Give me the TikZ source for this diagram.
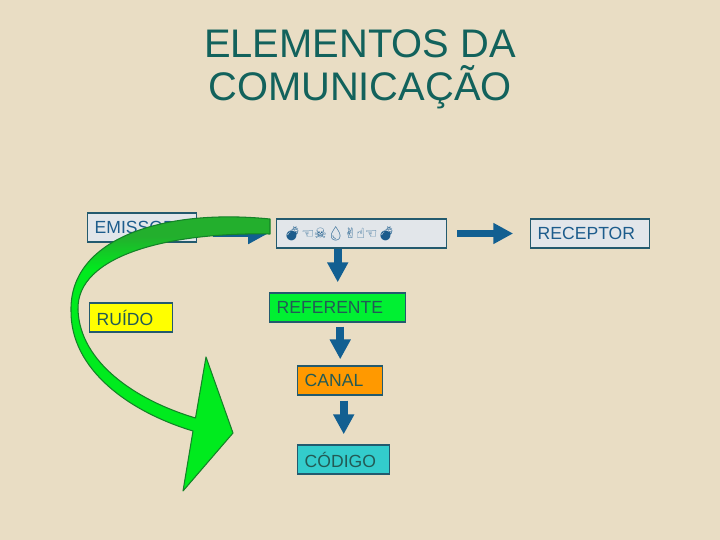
\documentclass[tikz,border=0pt]{standalone}
\usepackage{fontspec}
\setmainfont{Liberation Sans}
\newfontfamily\simbolos{DejaVu Sans}
\newfontfamily\emoji{Noto Emoji}
\usetikzlibrary{arrows.meta}

\definecolor{fundo}{RGB}{233,221,196}
\definecolor{tituloverde}{RGB}{18,98,92}
\definecolor{bordacaixa}{RGB}{35,90,110}
\definecolor{cinzacaixa}{RGB}{226,230,234}
\definecolor{textoazul}{RGB}{28,92,140}
\definecolor{textoverde}{RGB}{35,90,85}
\definecolor{azulseta}{RGB}{18,95,145}
\definecolor{amarelo}{RGB}{255,255,0}
\definecolor{verderef}{RGB}{0,240,50}
\definecolor{laranja}{RGB}{255,153,0}
\definecolor{turquesa}{RGB}{51,204,204}
\definecolor{verdeA}{RGB}{35,175,45}
\definecolor{verdeB}{RGB}{0,235,30}
\definecolor{verdebordo}{RGB}{20,130,40}

\pgfdeclareverticalshading{verdeseta}{100bp}{color(0bp)=(verdeB); color(64bp)=(verdeB); color(70bp)=(verdeA); color(100bp)=(verdeA)}

\begin{document}
\begin{tikzpicture}[
        x=0.02cm, y=-0.02cm,
        caixa/.style={
            rectangle,
            draw=bordacaixa,
            line width=0.8pt,
            anchor=west,
            minimum height=0.58cm,
            inner xsep=4pt,
            align=left,
            font=\fontsize{10}{12}\selectfont
        },
        cinza/.style={caixa, fill=cinzacaixa, text=textoazul},
        cor/.style={caixa, text=textoverde},
        titulo/.style={
            anchor=base,
            text=tituloverde,
            font=\fontsize{22.7}{24.4}\selectfont
        },
        seta/.style={
            draw=azulseta,
            line width=4.5pt,
            -{Triangle[length=11.3pt,width=11.3pt]}
        }
    ]
    % fundo e limites
    \fill[fundo] (0,0) rectangle (720,540);
    \useasboundingbox (0,0) rectangle (720,540);

    % titulo
    \node[titulo] (titulo1) at (360,58) {ELEMENTOS DA};
    \node[titulo] (titulo2) at (360,101) {COMUNICAÇÃO};

    % caixas
    \node[cinza, text width=1.9cm] (emissor) at (87,227.5) {EMISSOR};
    \node[cinza, text width=3.12cm, font=\fontsize{8}{10}\selectfont] (mensagem) at (276,233.5)
        {{\emoji 💣}{\simbolos ☜☠}{\emoji 💧}{\simbolos ✌☝☜}{\emoji 💣}};
    \node[cinza, text width=2.1cm] (receptor) at (530,233.5) {RECEPTOR};
    \node[cor, fill=amarelo, text width=1.38cm] (ruido) at (89,317.5) {RUÍDO};
    \node[cor, fill=verderef, text width=2.44cm] (referente) at (269,307.5) {REFERENTE};
    \node[cor, fill=laranja, text width=1.42cm] (canal) at (297,380.5) {CANAL};
    \node[cor, fill=turquesa, text width=1.56cm] (codigo) at (297,459.5) {CÓDIGO};

    % setas azuis
    \draw[seta, shorten <=9pt, shorten >=4.5pt] (emissor.east |- mensagem.west) -- (mensagem.west);
    \draw[seta, shorten <=5.7pt, shorten >=9.6pt] (mensagem.east) -- (receptor.west |- mensagem.east);
    \draw[seta, shorten >=5.7pt] (referente.north |- mensagem.south) -- (referente.north);
    \draw[seta, shorten <=2.3pt, shorten >=3.4pt] (canal.north |- referente.south) -- (canal.north);
    \draw[seta, shorten <=2.8pt, shorten >=5.7pt] (codigo.north |- canal.south) -- (codigo.north);

    % seta verde curva
    \shadedraw[shading=verdeseta, draw=verdebordo, line width=0.6pt, line join=round]
        (270,219) .. controls (160,208) and (70,240) .. (71,310)
        .. controls (70,370) and (130,412) .. (193,431)
        -- (183,491) -- (233,433) -- (206,357) -- (195.5,418)
        .. controls (135,400) and (80,362) .. (78,310)
        .. controls (76,255) and (170,232) .. (270,234)
        -- cycle;
\end{tikzpicture}
\end{document}
